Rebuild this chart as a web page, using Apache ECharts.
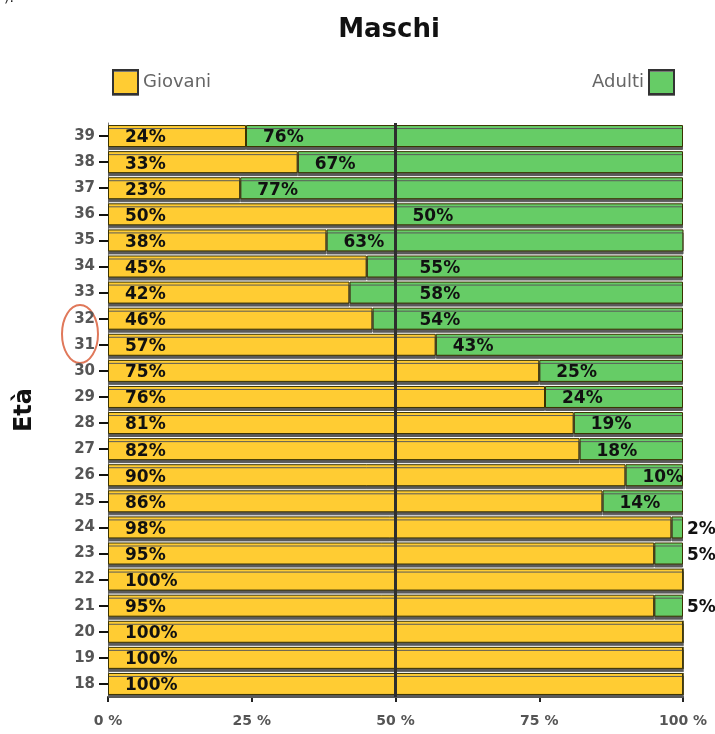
<!DOCTYPE html>
<html>
<head>
<meta charset="utf-8">
<script src="https://cdn.jsdelivr.net/npm/echarts@6/dist/echarts.min.js"></script>
<style>html,body{margin:0;padding:0;background:#fff}#c{width:715px;height:734px}</style>
</head>
<body>
<div id="c"></div>
<script>
const titleText = 'Maschi';
const axisName = 'Età';
const seriesNames = ['Giovani', 'Adulti'];
const ages = ['18','19','20','21','22','23','24','25','26','27','28','29','30','31','32','33','34','35','36','37','38','39'];
const giovani = [100,100,100,95,100,95,98,86,90,82,81,76,75,57,46,42,45,38,50,23,33,24];
const adulti = [0,0,0,5,0,5,2,14,10,18,19,24,25,43,54,58,55,63,50,77,67,76];
const xTicks = [0,25,50,75,100];

const GRID = {left:108, right:32, top:123, bottom:37};
const plotW = 715 - GRID.left - GRID.right;
const pxPer = plotW / 100;
const DIST = 17;

const baseLabel = {
  show: true, position: 'insideLeft', distance: DIST, offset: [0, 2],
  color: '#111', fontFamily: 'DejaVu Sans', fontWeight: 'bold', fontSize: 17,
  formatter: p => (p.value > 0 ? p.value + '%' : '')
};

const greenData = adulti.map((v, i) => {
  const g = giovani[i];
  if (v > 0 && v < 8) {
    return {value: v, label: {position: 'right', distance: 4, offset: [0, 2]}};
  }
  if (g < 50 && (50 - g) * pxPer < DIST + 45) {
    const start = g * pxPer + DIST;
    const target = 50 * pxPer + 24;
    return {value: v, label: {offset: [target - start, 2]}};
  }
  return {value: v};
});

const itemBase = {borderColor: '#3a3200', borderWidth: 1, shadowColor: '#5a5a5a', shadowOffsetY: 3, shadowBlur: 0};
const legendCommon = {icon: 'rect', itemWidth: 25, itemHeight: 24, itemGap: 8, top: 64,
  textStyle: {fontFamily: 'DejaVu Sans', fontSize: 18, color: '#666'},
  itemStyle: {borderColor: '#333', borderWidth: 2, shadowColor: '#777', shadowBlur: 0, shadowOffsetY: 1}};

const chart = echarts.init(document.getElementById('c'));
chart.setOption({
  animation: false,
  backgroundColor: '#fff',
  title: {text: titleText, left: 384, textAlign: 'center', top: 12,
    textStyle: {fontFamily: 'DejaVu Sans', fontWeight: 'bold', fontSize: 26, color: '#111'}},
  legend: [
    Object.assign({data: [seriesNames[0]], left: 107}, legendCommon),
    Object.assign({data: [seriesNames[1]], right: 35, align: 'right'}, legendCommon)
  ],
  grid: GRID,
  xAxis: {
    type: 'value', min: 0, max: 100, interval: 25,
    axisLine: {show: true, lineStyle: {color: '#222', width: 2}},
    axisTick: {show: true, length: 5, lineStyle: {color: '#222', width: 2}},
    axisLabel: {margin: 17, formatter: v => (xTicks.includes(v) ? v + ' %' : ''),
      fontFamily: 'DejaVu Sans', fontWeight: 'bold', fontSize: 14, color: '#555'},
    splitLine: {show: false}
  },
  yAxis: {
    type: 'category', data: ages,
    axisLine: {show: true, lineStyle: {color: '#777', width: 1}},
    axisTick: {show: true, alignWithLabel: true, length: 9, lineStyle: {color: '#111', width: 2}},
    axisLabel: {margin: 13, fontFamily: 'DejaVu Sans', fontWeight: 'bold', fontSize: 15, color: '#555'}
  },
  series: [
    {name: seriesNames[0], type: 'bar', stack: 'tot', barWidth: 22,
      itemStyle: Object.assign({color: '#FFCC33'}, itemBase),
      label: baseLabel, data: giovani,
      markLine: {silent: true, symbol: 'none', label: {show: false}, z: 10,
        lineStyle: {color: '#2e2e2e', width: 3, type: 'solid'}, data: [{xAxis: 50}]}},
    {name: seriesNames[1], type: 'bar', stack: 'tot', barWidth: 22,
      itemStyle: Object.assign({color: '#66CC66'}, itemBase),
      label: baseLabel, data: greenData}
  ],
  graphic: [
    {type: 'text', x: 25, y: 410, rotation: Math.PI / 2,
      style: {text: axisName, font: 'bold 24px "DejaVu Sans"', fill: '#111', align: 'center', verticalAlign: 'middle'}},
    {type: 'ellipse', shape: {cx: 80, cy: 334, rx: 18, ry: 29},
      style: {fill: 'none', stroke: '#e0785a', lineWidth: 2}},
    {type: 'text', x: 4, y: -9, style: {text: ').', font: '14px "DejaVu Sans"', fill: '#222'}}
  ]
});
</script>
</body>
</html>
